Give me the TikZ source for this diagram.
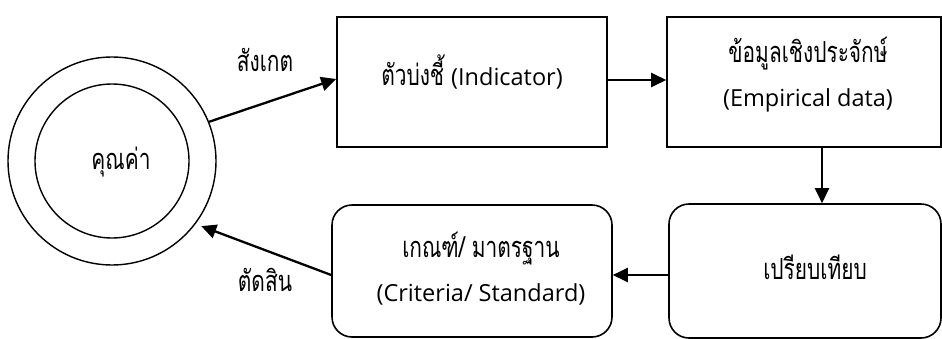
\documentclass[tikz,border=0pt]{standalone}
\usepackage{fontspec}
\setmainfont[Script=Thai,FakeStretch=0.72]{Loma}
\newfontfamily\latinfont{Open Sans}
\newcommand{\lat}[1]{{\latinfont\fontsize{23.5}{44}\selectfont #1}}
\usetikzlibrary{arrows.meta}
\tikzset{
  box/.style={draw, line width=1.6pt, rectangle, inner sep=0pt},
  rbox/.style={box, rounded corners=20pt},
  ring/.style={draw, line width=1.4pt, circle, inner sep=0pt},
  txt/.style={font=\fontsize{29}{44}\selectfont, align=center, inner sep=0pt},
  conn/.style={line width=2.3pt, -{Triangle[length=15pt,width=14pt]}},
}
\begin{document}
\begin{tikzpicture}[x=1pt,y=-1pt]
\path[use as bounding box] (0,0) rectangle (942,338);
\clip (0,0) rectangle (942,338);
% value circles
\node[ring, minimum size=208pt] (v) at (112,161) {};
\node[ring, minimum size=154pt] (vi) at (112,161) {};
\node[txt] (vt) at (121,162) {คุณค่า};
% boxes
\node[box, minimum width=270pt, minimum height=130pt] (b1) at (472,82) {};
\node[box, minimum width=274pt, minimum height=130pt] (b2) at (804,82) {};
\node[rbox, minimum width=272pt, minimum height=134pt] (b3) at (805,271) {};
\node[rbox, minimum width=280pt, minimum height=132pt] (b4) at (472,271) {};
% texts
\node[txt] (t1) at (472,72) {ตัวบ่งชี้ \lat{(Indicator)}};
\node[txt] (t2) at (808,75) {ข้อมูลเชิงประจักษ์\\\lat{(Empirical data)}};
\node[txt] (t3) at (815,267) {เปรียบเทียบ};
\node[txt] (t4) at (481,269) {เกณฑ์/ มาตรฐาน\\\lat{(Criteria/ Standard)}};
\node[txt] (l1) at (265,60) {สังเกต};
\node[txt] (l2) at (265,280) {ตัดสิน};
% connectors
\draw[conn] (v.22) -- ([yshift=3pt]b1.west);
\draw[conn] ([yshift=2pt]b1.east) -- ([yshift=2pt]b2.west);
\draw[conn] ([xshift=18pt]b2.south) -- ([xshift=17pt]b3.north);
\draw[conn] ([yshift=-4pt]b3.west) -- ([yshift=-4pt]b4.west -| b4.east);
\draw[conn, shorten >=6pt] ([yshift=-4pt]b4.west) -- (v.-37);
\end{tikzpicture}
\end{document}
